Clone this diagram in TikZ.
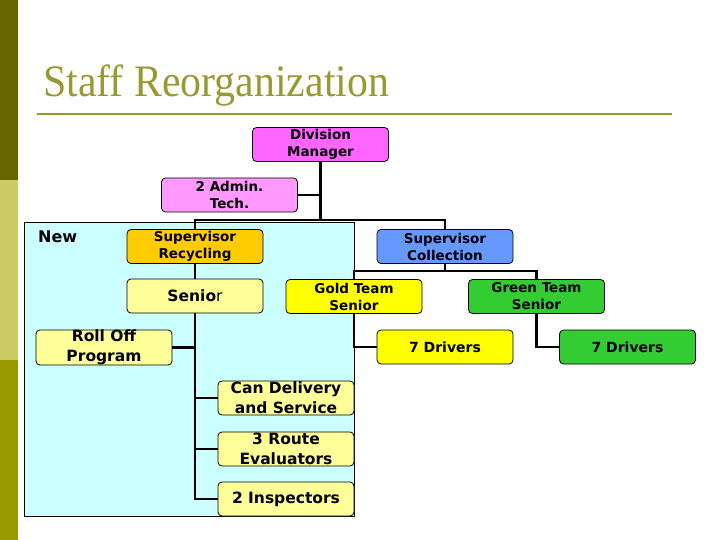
\documentclass[tikz,border=0pt]{standalone}
\usepackage{fontspec}
\setmainfont{DejaVu Sans}
\newfontfamily\titlefont{Liberation Serif}
\definecolor{barA}{HTML}{666600}
\definecolor{barB}{HTML}{CCCC66}
\definecolor{barC}{HTML}{999900}
\definecolor{titlecol}{HTML}{999933}
\definecolor{dmcol}{HTML}{FF66FF}
\definecolor{admcol}{HTML}{FF99FF}
\definecolor{reccol}{HTML}{FFCC00}
\definecolor{colcol}{HTML}{6699FF}
\definecolor{ltyel}{HTML}{FFFF99}
\definecolor{yel}{HTML}{FFFF00}
\definecolor{grn}{HTML}{33CC33}
\definecolor{cyanbg}{HTML}{CCFFFF}
\tikzset{
  box/.style={draw=black, line width=0.8pt, rounded corners=4pt, minimum width=136pt, minimum height=34pt, inner sep=0pt, align=center, font=\bfseries\fontsize{13.5}{17}\selectfont},
  bigbox/.style={box, font=\bfseries\fontsize{15.5}{20}\selectfont},
  medbox/.style={box, font=\bfseries\fontsize{14}{18}\selectfont},
  conn/.style={line width=2.2pt, black},
}
\begin{document}
\begin{tikzpicture}[x=1pt,y=-1pt]
\useasboundingbox (0,0) rectangle (720,540);
\fill[white] (0,0) rectangle (720,540);
% side bar
\fill[barA] (0,0) rectangle (18,180);
\fill[barB] (0,180) rectangle (18,360);
\fill[barC] (0,360) rectangle (18,540);
% title
\node[anchor=base west, inner sep=0pt, text=titlecol, font=\titlefont\fontsize{45}{50}\selectfont, xscale=0.93] (title) at (43,97) {Staff Reorganization};
\draw[titlecol, line width=2.2pt] (37,114) -- (672,114);
% new area
\draw[fill=cyanbg, line width=0.8pt] (24,222) rectangle (354,516);
\node[anchor=west, inner sep=0pt, font=\bfseries\fontsize{16}{18}\selectfont] (new) at (38,237) {New};
% nodes
\node[box, fill=dmcol] (dm) at (320.5,144.5) {Division\\Manager};
\node[box, fill=admcol] (adm) at (229.5,195) {2 Admin.\\Tech.};
\node[box, fill=reccol] (rec) at (195,246.5) {Supervisor\\Recycling};
\node[box, fill=colcol] (col) at (445,246.5) {Supervisor\\Collection};
\node[bigbox, fill=ltyel] (sen) at (195,296) {Senio{\mdseries r}};
\node[box, fill=yel] (gold) at (354,296.5) {Gold Team\\Senior};
\node[box, fill=grn] (green) at (536.5,296.5) {Green Team\\Senior};
\node[bigbox, fill=ltyel] (roll) at (104,347.5) {Roll Off\\Program};
\node[medbox, fill=yel] (d1) at (445,347) {7 Drivers};
\node[medbox, fill=grn] (d2) at (627.5,347) {7 Drivers};
\node[bigbox, fill=ltyel] (can) at (286,398) {Can Delivery\\and Service};
\node[bigbox, fill=ltyel] (route) at (286,449) {3 Route\\Evaluators};
\node[bigbox, fill=ltyel] (insp) at (286,499) {2 Inspectors};
% junctions
\coordinate (j1) at (320.5,220);
\coordinate (j2) at (445,271);
% connectors
\draw[conn] (dm.south) -- (j1);
\draw[conn] (adm.east) -- (adm.east -| dm.south);
\draw[conn] (rec.north) |- (j1) -| (col.north);
\draw[conn] (rec.south) -- (sen.north);
\draw[conn] (sen.south) |- (insp.west);
\draw[conn] (roll.east) -- (roll.east -| sen.south);
\draw[conn] (can.west) -- (can.west -| sen.south);
\draw[conn] (route.west) -- (route.west -| sen.south);
\draw[conn] (col.south) -- (j2);
\draw[conn] (gold.north) |- (j2) -| (green.north);
\draw[conn] (gold.south) |- (d1.west);
\draw[conn] (green.south) |- (d2.west);
\end{tikzpicture}
\end{document}
